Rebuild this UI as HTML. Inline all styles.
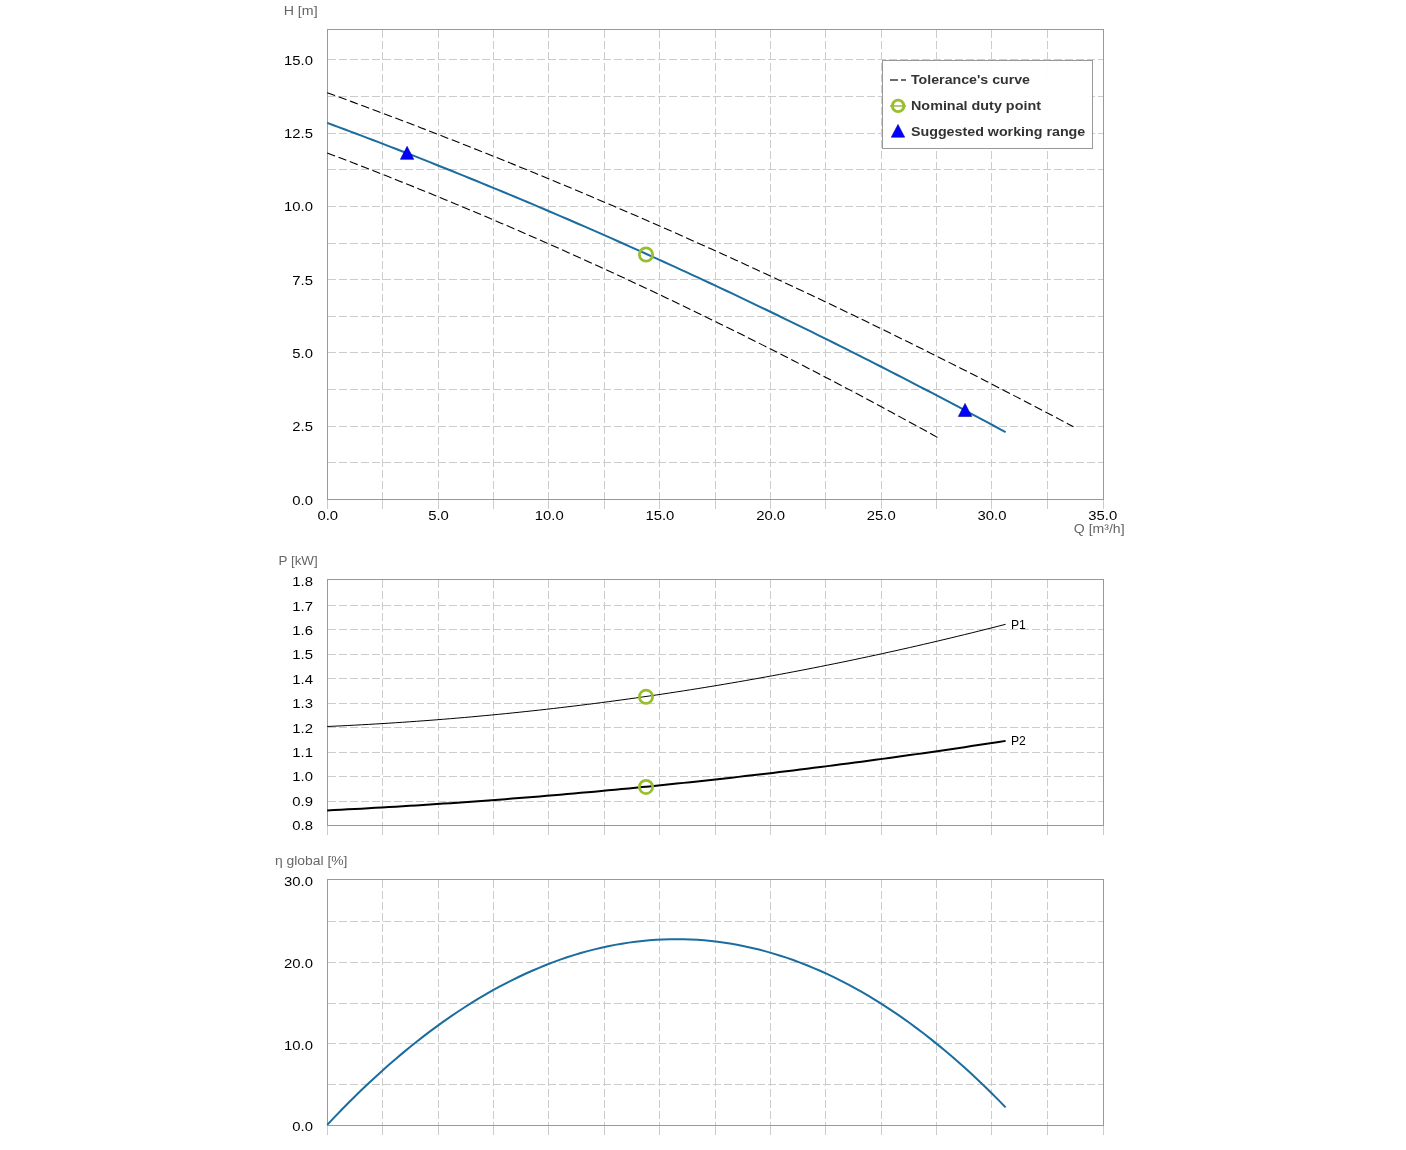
<!DOCTYPE html>
<html><head><meta charset="utf-8"><title>Pump curves</title>
<style>html,body{margin:0;padding:0;background:#fff;}body{width:1406px;height:1150px;overflow:hidden;}
text{font-family:"Liberation Sans", sans-serif;}</style></head>
<body>
<svg width="1406" height="1150" viewBox="0 0 1406 1150" style="display:block;will-change:transform">
<g font-family='"Liberation Sans", sans-serif'>
<line x1="328" y1="462.5" x2="1103" y2="462.5" stroke="#cccccc" stroke-dasharray="8,3"/>
<line x1="328" y1="426.5" x2="1103" y2="426.5" stroke="#cccccc" stroke-dasharray="8,3"/>
<line x1="328" y1="389.5" x2="1103" y2="389.5" stroke="#cccccc" stroke-dasharray="8,3"/>
<line x1="328" y1="352.5" x2="1103" y2="352.5" stroke="#cccccc" stroke-dasharray="8,3"/>
<line x1="328" y1="316.5" x2="1103" y2="316.5" stroke="#cccccc" stroke-dasharray="8,3"/>
<line x1="328" y1="279.5" x2="1103" y2="279.5" stroke="#cccccc" stroke-dasharray="8,3"/>
<line x1="328" y1="243.5" x2="1103" y2="243.5" stroke="#cccccc" stroke-dasharray="8,3"/>
<line x1="328" y1="206.5" x2="1103" y2="206.5" stroke="#cccccc" stroke-dasharray="8,3"/>
<line x1="328" y1="169.5" x2="1103" y2="169.5" stroke="#cccccc" stroke-dasharray="8,3"/>
<line x1="328" y1="133.5" x2="1103" y2="133.5" stroke="#cccccc" stroke-dasharray="8,3"/>
<line x1="328" y1="96.5" x2="1103" y2="96.5" stroke="#cccccc" stroke-dasharray="8,3"/>
<line x1="328" y1="59.5" x2="1103" y2="59.5" stroke="#cccccc" stroke-dasharray="8,3"/>
<line x1="327.5" y1="500" x2="327.5" y2="509" stroke="#cccccc"/>
<line x1="382.5" y1="30" x2="382.5" y2="499" stroke="#cccccc" stroke-dasharray="8,3"/>
<line x1="382.5" y1="500" x2="382.5" y2="509" stroke="#cccccc"/>
<line x1="438.5" y1="30" x2="438.5" y2="499" stroke="#cccccc" stroke-dasharray="8,3"/>
<line x1="438.5" y1="500" x2="438.5" y2="509" stroke="#cccccc"/>
<line x1="493.5" y1="30" x2="493.5" y2="499" stroke="#cccccc" stroke-dasharray="8,3"/>
<line x1="493.5" y1="500" x2="493.5" y2="509" stroke="#cccccc"/>
<line x1="548.5" y1="30" x2="548.5" y2="499" stroke="#cccccc" stroke-dasharray="8,3"/>
<line x1="548.5" y1="500" x2="548.5" y2="509" stroke="#cccccc"/>
<line x1="604.5" y1="30" x2="604.5" y2="499" stroke="#cccccc" stroke-dasharray="8,3"/>
<line x1="604.5" y1="500" x2="604.5" y2="509" stroke="#cccccc"/>
<line x1="659.5" y1="30" x2="659.5" y2="499" stroke="#cccccc" stroke-dasharray="8,3"/>
<line x1="659.5" y1="500" x2="659.5" y2="509" stroke="#cccccc"/>
<line x1="715.5" y1="30" x2="715.5" y2="499" stroke="#cccccc" stroke-dasharray="8,3"/>
<line x1="715.5" y1="500" x2="715.5" y2="509" stroke="#cccccc"/>
<line x1="770.5" y1="30" x2="770.5" y2="499" stroke="#cccccc" stroke-dasharray="8,3"/>
<line x1="770.5" y1="500" x2="770.5" y2="509" stroke="#cccccc"/>
<line x1="825.5" y1="30" x2="825.5" y2="499" stroke="#cccccc" stroke-dasharray="8,3"/>
<line x1="825.5" y1="500" x2="825.5" y2="509" stroke="#cccccc"/>
<line x1="881.5" y1="30" x2="881.5" y2="499" stroke="#cccccc" stroke-dasharray="8,3"/>
<line x1="881.5" y1="500" x2="881.5" y2="509" stroke="#cccccc"/>
<line x1="936.5" y1="30" x2="936.5" y2="499" stroke="#cccccc" stroke-dasharray="8,3"/>
<line x1="936.5" y1="500" x2="936.5" y2="509" stroke="#cccccc"/>
<line x1="991.5" y1="30" x2="991.5" y2="499" stroke="#cccccc" stroke-dasharray="8,3"/>
<line x1="991.5" y1="500" x2="991.5" y2="509" stroke="#cccccc"/>
<line x1="1047.5" y1="30" x2="1047.5" y2="499" stroke="#cccccc" stroke-dasharray="8,3"/>
<line x1="1047.5" y1="500" x2="1047.5" y2="509" stroke="#cccccc"/>
<line x1="1103.5" y1="500" x2="1103.5" y2="509" stroke="#cccccc"/>
<rect x="327.5" y="29.5" width="776" height="470" fill="none" stroke="#999999"/>
<path d="M327.20,92.69 L333.47,94.98 L339.74,97.27 L346.01,99.58 L352.28,101.89 L358.56,104.21 L364.83,106.54 L371.10,108.88 L377.37,111.23 L383.64,113.59 L389.91,115.96 L396.18,118.33 L402.45,120.72 L408.73,123.11 L415.00,125.51 L421.27,127.92 L427.54,130.34 L433.81,132.77 L440.08,135.20 L446.35,137.65 L452.62,140.10 L458.90,142.57 L465.17,145.04 L471.44,147.52 L477.71,150.01 L483.98,152.51 L490.25,155.01 L496.52,157.53 L502.79,160.06 L509.07,162.59 L515.34,165.13 L521.61,167.68 L527.88,170.24 L534.15,172.81 L540.42,175.39 L546.69,177.98 L552.96,180.57 L559.24,183.18 L565.51,185.79 L571.78,188.41 L578.05,191.04 L584.32,193.68 L590.59,196.33 L596.86,198.99 L603.13,201.66 L609.41,204.33 L615.68,207.01 L621.95,209.71 L628.22,212.41 L634.49,215.12 L640.76,217.84 L647.03,220.57 L653.30,223.30 L659.57,226.05 L665.85,228.80 L672.12,231.57 L678.39,234.34 L684.66,237.12 L690.93,239.91 L697.20,242.71 L703.47,245.51 L709.74,248.33 L716.02,251.16 L722.29,253.99 L728.56,256.83 L734.83,259.68 L741.10,262.54 L747.37,265.41 L753.64,268.29 L759.91,271.18 L766.19,274.07 L772.46,276.98 L778.73,279.89 L785.00,282.81 L791.27,285.74 L797.54,288.68 L803.81,291.63 L810.08,294.59 L816.36,297.56 L822.63,300.53 L828.90,303.52 L835.17,306.51 L841.44,309.51 L847.71,312.52 L853.98,315.54 L860.25,318.57 L866.53,321.60 L872.80,324.65 L879.07,327.70 L885.34,330.77 L891.61,333.84 L897.88,336.92 L904.15,340.01 L910.42,343.11 L916.70,346.22 L922.97,349.33 L929.24,352.46 L935.51,355.59 L941.78,358.73 L948.05,361.89 L954.32,365.05 L960.59,368.22 L966.87,371.39 L973.14,374.58 L979.41,377.78 L985.68,380.98 L991.95,384.19 L998.22,387.42 L1004.49,390.65 L1010.76,393.89 L1017.03,397.13 L1023.31,400.39 L1029.58,403.66 L1035.85,406.93 L1042.12,410.22 L1048.39,413.51 L1054.66,416.81 L1060.93,420.12 L1067.20,423.44 L1073.48,426.77" fill="none" stroke="#000" stroke-width="1.1" stroke-dasharray="8.4,3.7"/>
<path d="M327.20,152.96 L332.33,154.91 L337.46,156.86 L342.59,158.83 L347.72,160.80 L352.86,162.77 L357.99,164.76 L363.12,166.75 L368.25,168.75 L373.38,170.76 L378.51,172.78 L383.64,174.80 L388.77,176.83 L393.90,178.87 L399.03,180.92 L404.17,182.97 L409.30,185.03 L414.43,187.10 L419.56,189.17 L424.69,191.26 L429.82,193.35 L434.95,195.45 L440.08,197.55 L445.21,199.66 L450.34,201.79 L455.48,203.91 L460.61,206.05 L465.74,208.19 L470.87,210.34 L476.00,212.50 L481.13,214.67 L486.26,216.84 L491.39,219.02 L496.52,221.21 L501.65,223.41 L506.79,225.61 L511.92,227.82 L517.05,230.04 L522.18,232.27 L527.31,234.50 L532.44,236.74 L537.57,238.99 L542.70,241.25 L547.83,243.51 L552.96,245.78 L558.10,248.06 L563.23,250.35 L568.36,252.64 L573.49,254.94 L578.62,257.25 L583.75,259.57 L588.88,261.89 L594.01,264.22 L599.14,266.56 L604.27,268.91 L609.41,271.26 L614.54,273.62 L619.67,275.99 L624.80,278.37 L629.93,280.75 L635.06,283.14 L640.19,285.54 L645.32,287.95 L650.45,290.36 L655.58,292.78 L660.72,295.21 L665.85,297.65 L670.98,300.09 L676.11,302.54 L681.24,305.00 L686.37,307.47 L691.50,309.94 L696.63,312.43 L701.76,314.92 L706.89,317.41 L712.03,319.92 L717.16,322.43 L722.29,324.95 L727.42,327.47 L732.55,330.01 L737.68,332.55 L742.81,335.10 L747.94,337.66 L753.07,340.22 L758.20,342.79 L763.34,345.37 L768.47,347.96 L773.60,350.55 L778.73,353.16 L783.86,355.76 L788.99,358.38 L794.12,361.01 L799.25,363.64 L804.38,366.28 L809.51,368.92 L814.65,371.58 L819.78,374.24 L824.91,376.91 L830.04,379.59 L835.17,382.27 L840.30,384.97 L845.43,387.66 L850.56,390.37 L855.69,393.09 L860.82,395.81 L865.96,398.54 L871.09,401.28 L876.22,404.02 L881.35,406.77 L886.48,409.53 L891.61,412.30 L896.74,415.08 L901.87,417.86 L907.00,420.65 L912.13,423.44 L917.27,426.25 L922.40,429.06 L927.53,431.88 L932.66,434.71 L937.79,437.54" fill="none" stroke="#000" stroke-width="1.1" stroke-dasharray="8.4,3.7"/>
<path d="M327.20,122.83 L332.90,124.94 L338.60,127.07 L344.30,129.20 L350.00,131.34 L355.71,133.49 L361.41,135.65 L367.11,137.82 L372.81,139.99 L378.51,142.18 L384.21,144.37 L389.91,146.57 L395.61,148.77 L401.31,150.99 L407.02,153.21 L412.72,155.44 L418.42,157.68 L424.12,159.93 L429.82,162.19 L435.52,164.45 L441.22,166.73 L446.92,169.01 L452.62,171.29 L458.33,173.59 L464.03,175.90 L469.73,178.21 L475.43,180.53 L481.13,182.86 L486.83,185.20 L492.53,187.55 L498.23,189.90 L503.93,192.26 L509.64,194.63 L515.34,197.01 L521.04,199.40 L526.74,201.79 L532.44,204.20 L538.14,206.61 L543.84,209.03 L549.54,211.46 L555.24,213.89 L560.95,216.34 L566.65,218.79 L572.35,221.25 L578.05,223.72 L583.75,226.20 L589.45,228.68 L595.15,231.17 L600.85,233.67 L606.55,236.18 L612.26,238.70 L617.96,241.23 L623.66,243.76 L629.36,246.30 L635.06,248.85 L640.76,251.41 L646.46,253.98 L652.16,256.55 L657.86,259.14 L663.57,261.73 L669.27,264.33 L674.97,266.94 L680.67,269.55 L686.37,272.18 L692.07,274.81 L697.77,277.45 L703.47,280.10 L709.17,282.75 L714.88,285.42 L720.58,288.09 L726.28,290.77 L731.98,293.46 L737.68,296.16 L743.38,298.86 L749.08,301.58 L754.78,304.30 L760.48,307.03 L766.19,309.77 L771.89,312.52 L777.59,315.27 L783.29,318.03 L788.99,320.80 L794.69,323.58 L800.39,326.37 L806.09,329.17 L811.79,331.97 L817.50,334.78 L823.20,337.60 L828.90,340.43 L834.60,343.27 L840.30,346.11 L846.00,348.96 L851.70,351.82 L857.40,354.69 L863.10,357.57 L868.81,360.46 L874.51,363.35 L880.21,366.25 L885.91,369.16 L891.61,372.08 L897.31,375.01 L903.01,377.94 L908.71,380.88 L914.41,383.83 L920.12,386.79 L925.82,389.76 L931.52,392.73 L937.22,395.72 L942.92,398.71 L948.62,401.71 L954.32,404.72 L960.02,407.73 L965.72,410.76 L971.43,413.79 L977.13,416.83 L982.83,419.88 L988.53,422.94 L994.23,426.00 L999.93,429.08 L1005.63,432.16" fill="none" stroke="#1b6c9f" stroke-width="2" stroke-linejoin="round"/>
<path d="M407.10,146.35 L413.80,159.35 L400.40,159.35 Z" fill="#0000ff" stroke="#0000a0" stroke-width="0.6" stroke-linejoin="miter"/>
<path d="M965.05,403.45 L971.75,416.45 L958.35,416.45 Z" fill="#0000ff" stroke="#0000a0" stroke-width="0.6" stroke-linejoin="miter"/>
<circle cx="646.0" cy="254.5" r="6.65" fill="none" stroke="#97bf2b" stroke-width="2.75"/>
<text x="313.00" y="65.00" font-size="13" fill="#000" text-anchor="end" textLength="28.95" lengthAdjust="spacingAndGlyphs">15.0</text>
<text x="313.00" y="138.00" font-size="13" fill="#000" text-anchor="end" textLength="28.95" lengthAdjust="spacingAndGlyphs">12.5</text>
<text x="313.00" y="211.00" font-size="13" fill="#000" text-anchor="end" textLength="28.95" lengthAdjust="spacingAndGlyphs">10.0</text>
<text x="313.00" y="284.50" font-size="13" fill="#000" text-anchor="end" textLength="20.67" lengthAdjust="spacingAndGlyphs">7.5</text>
<text x="313.00" y="357.50" font-size="13" fill="#000" text-anchor="end" textLength="20.67" lengthAdjust="spacingAndGlyphs">5.0</text>
<text x="313.00" y="431.00" font-size="13" fill="#000" text-anchor="end" textLength="20.67" lengthAdjust="spacingAndGlyphs">2.5</text>
<text x="313.00" y="505.00" font-size="13" fill="#000" text-anchor="end" textLength="20.67" lengthAdjust="spacingAndGlyphs">0.0</text>
<text x="327.80" y="520.00" font-size="13" fill="#000" text-anchor="middle" textLength="20.67" lengthAdjust="spacingAndGlyphs">0.0</text>
<text x="438.50" y="520.00" font-size="13" fill="#000" text-anchor="middle" textLength="20.67" lengthAdjust="spacingAndGlyphs">5.0</text>
<text x="549.20" y="520.00" font-size="13" fill="#000" text-anchor="middle" textLength="28.95" lengthAdjust="spacingAndGlyphs">10.0</text>
<text x="659.90" y="520.00" font-size="13" fill="#000" text-anchor="middle" textLength="28.95" lengthAdjust="spacingAndGlyphs">15.0</text>
<text x="770.60" y="520.00" font-size="13" fill="#000" text-anchor="middle" textLength="28.95" lengthAdjust="spacingAndGlyphs">20.0</text>
<text x="881.30" y="520.00" font-size="13" fill="#000" text-anchor="middle" textLength="28.95" lengthAdjust="spacingAndGlyphs">25.0</text>
<text x="992.00" y="520.00" font-size="13" fill="#000" text-anchor="middle" textLength="28.95" lengthAdjust="spacingAndGlyphs">30.0</text>
<text x="1102.70" y="520.00" font-size="13" fill="#000" text-anchor="middle" textLength="28.95" lengthAdjust="spacingAndGlyphs">35.0</text>
<text x="283.70" y="14.80" font-size="12" fill="#666" text-anchor="start" textLength="33.89" lengthAdjust="spacingAndGlyphs">H [m]</text>
<text x="1073.80" y="533.00" font-size="12" fill="#666" text-anchor="start" textLength="50.77" lengthAdjust="spacingAndGlyphs">Q [m³/h]</text>
<rect x="882.5" y="60.5" width="210" height="88" fill="#fff" fill-opacity="0.95" stroke="#999999"/>
<line x1="890" y1="80" x2="906" y2="80" stroke="#6a6a6a" stroke-width="2" stroke-dasharray="8,3"/>
<line x1="890" y1="106" x2="906" y2="106" stroke="#9aab45" stroke-width="1.4"/>
<circle cx="898.1" cy="105.9" r="5.75" fill="none" stroke="#97bf2b" stroke-width="2.9"/>
<path d="M898,124.4 L904.7,137.2 L891.3,137.2 Z" fill="#0000ff" stroke="#0000a0" stroke-width="0.6"/>
<text x="911.00" y="84.00" font-size="12" font-weight="bold" fill="#333" text-anchor="start" textLength="119.02" lengthAdjust="spacingAndGlyphs">Tolerance's curve</text>
<text x="911.00" y="110.00" font-size="12" font-weight="bold" fill="#333" text-anchor="start" textLength="129.93" lengthAdjust="spacingAndGlyphs">Nominal duty point</text>
<text x="911.00" y="135.70" font-size="12" font-weight="bold" fill="#333" text-anchor="start" textLength="174.23" lengthAdjust="spacingAndGlyphs">Suggested working range</text>
<line x1="328" y1="801.5" x2="1103" y2="801.5" stroke="#cccccc" stroke-dasharray="8,3"/>
<line x1="328" y1="776.5" x2="1103" y2="776.5" stroke="#cccccc" stroke-dasharray="8,3"/>
<line x1="328" y1="752.5" x2="1103" y2="752.5" stroke="#cccccc" stroke-dasharray="8,3"/>
<line x1="328" y1="727.5" x2="1103" y2="727.5" stroke="#cccccc" stroke-dasharray="8,3"/>
<line x1="328" y1="703.5" x2="1103" y2="703.5" stroke="#cccccc" stroke-dasharray="8,3"/>
<line x1="328" y1="678.5" x2="1103" y2="678.5" stroke="#cccccc" stroke-dasharray="8,3"/>
<line x1="328" y1="654.5" x2="1103" y2="654.5" stroke="#cccccc" stroke-dasharray="8,3"/>
<line x1="328" y1="629.5" x2="1103" y2="629.5" stroke="#cccccc" stroke-dasharray="8,3"/>
<line x1="328" y1="605.5" x2="1103" y2="605.5" stroke="#cccccc" stroke-dasharray="8,3"/>
<line x1="327.5" y1="826" x2="327.5" y2="835" stroke="#cccccc"/>
<line x1="382.5" y1="580" x2="382.5" y2="825" stroke="#cccccc" stroke-dasharray="8,3"/>
<line x1="382.5" y1="826" x2="382.5" y2="835" stroke="#cccccc"/>
<line x1="438.5" y1="580" x2="438.5" y2="825" stroke="#cccccc" stroke-dasharray="8,3"/>
<line x1="438.5" y1="826" x2="438.5" y2="835" stroke="#cccccc"/>
<line x1="493.5" y1="580" x2="493.5" y2="825" stroke="#cccccc" stroke-dasharray="8,3"/>
<line x1="493.5" y1="826" x2="493.5" y2="835" stroke="#cccccc"/>
<line x1="548.5" y1="580" x2="548.5" y2="825" stroke="#cccccc" stroke-dasharray="8,3"/>
<line x1="548.5" y1="826" x2="548.5" y2="835" stroke="#cccccc"/>
<line x1="604.5" y1="580" x2="604.5" y2="825" stroke="#cccccc" stroke-dasharray="8,3"/>
<line x1="604.5" y1="826" x2="604.5" y2="835" stroke="#cccccc"/>
<line x1="659.5" y1="580" x2="659.5" y2="825" stroke="#cccccc" stroke-dasharray="8,3"/>
<line x1="659.5" y1="826" x2="659.5" y2="835" stroke="#cccccc"/>
<line x1="715.5" y1="580" x2="715.5" y2="825" stroke="#cccccc" stroke-dasharray="8,3"/>
<line x1="715.5" y1="826" x2="715.5" y2="835" stroke="#cccccc"/>
<line x1="770.5" y1="580" x2="770.5" y2="825" stroke="#cccccc" stroke-dasharray="8,3"/>
<line x1="770.5" y1="826" x2="770.5" y2="835" stroke="#cccccc"/>
<line x1="825.5" y1="580" x2="825.5" y2="825" stroke="#cccccc" stroke-dasharray="8,3"/>
<line x1="825.5" y1="826" x2="825.5" y2="835" stroke="#cccccc"/>
<line x1="881.5" y1="580" x2="881.5" y2="825" stroke="#cccccc" stroke-dasharray="8,3"/>
<line x1="881.5" y1="826" x2="881.5" y2="835" stroke="#cccccc"/>
<line x1="936.5" y1="580" x2="936.5" y2="825" stroke="#cccccc" stroke-dasharray="8,3"/>
<line x1="936.5" y1="826" x2="936.5" y2="835" stroke="#cccccc"/>
<line x1="991.5" y1="580" x2="991.5" y2="825" stroke="#cccccc" stroke-dasharray="8,3"/>
<line x1="991.5" y1="826" x2="991.5" y2="835" stroke="#cccccc"/>
<line x1="1047.5" y1="580" x2="1047.5" y2="825" stroke="#cccccc" stroke-dasharray="8,3"/>
<line x1="1047.5" y1="826" x2="1047.5" y2="835" stroke="#cccccc"/>
<line x1="1103.5" y1="826" x2="1103.5" y2="835" stroke="#cccccc"/>
<rect x="327.5" y="579.5" width="776" height="246" fill="none" stroke="#999999"/>
<path d="M327.20,726.49 L334.05,726.18 L340.91,725.86 L347.76,725.52 L354.61,725.16 L361.46,724.79 L368.32,724.41 L375.17,724.01 L382.02,723.60 L388.88,723.17 L395.73,722.73 L402.58,722.28 L409.43,721.80 L416.29,721.32 L423.14,720.82 L429.99,720.30 L436.85,719.77 L443.70,719.22 L450.55,718.66 L457.40,718.09 L464.26,717.50 L471.11,716.90 L477.96,716.28 L484.82,715.64 L491.67,714.99 L498.52,714.33 L505.37,713.65 L512.23,712.96 L519.08,712.25 L525.93,711.53 L532.79,710.79 L539.64,710.04 L546.49,709.28 L553.34,708.49 L560.20,707.70 L567.05,706.89 L573.90,706.06 L580.76,705.22 L587.61,704.37 L594.46,703.50 L601.31,702.61 L608.17,701.71 L615.02,700.80 L621.87,699.87 L628.73,698.93 L635.58,697.97 L642.43,696.99 L649.28,696.01 L656.14,695.00 L662.99,693.99 L669.84,692.95 L676.70,691.91 L683.55,690.85 L690.40,689.77 L697.25,688.68 L704.11,687.57 L710.96,686.45 L717.81,685.32 L724.67,684.17 L731.52,683.00 L738.37,681.82 L745.22,680.63 L752.08,679.42 L758.93,678.19 L765.78,676.96 L772.64,675.70 L779.49,674.43 L786.34,673.15 L793.19,671.85 L800.05,670.54 L806.90,669.21 L813.75,667.87 L820.61,666.51 L827.46,665.14 L834.31,663.76 L841.16,662.36 L848.02,660.94 L854.87,659.51 L861.72,658.06 L868.58,656.60 L875.43,655.13 L882.28,653.64 L889.13,652.14 L895.99,650.62 L902.84,649.08 L909.69,647.54 L916.55,645.97 L923.40,644.39 L930.25,642.80 L937.10,641.19 L943.96,639.57 L950.81,637.93 L957.66,636.28 L964.52,634.62 L971.37,632.94 L978.22,631.24 L985.07,629.53 L991.93,627.80 L998.78,626.06 L1005.63,624.31" fill="none" stroke="#000" stroke-width="1"/>
<path d="M327.20,810.41 L334.05,810.07 L340.91,809.72 L347.76,809.36 L354.61,809.00 L361.46,808.63 L368.32,808.25 L375.17,807.86 L382.02,807.47 L388.88,807.07 L395.73,806.66 L402.58,806.25 L409.43,805.82 L416.29,805.39 L423.14,804.96 L429.99,804.51 L436.85,804.06 L443.70,803.60 L450.55,803.13 L457.40,802.66 L464.26,802.18 L471.11,801.69 L477.96,801.19 L484.82,800.69 L491.67,800.18 L498.52,799.66 L505.37,799.13 L512.23,798.60 L519.08,798.06 L525.93,797.51 L532.79,796.96 L539.64,796.39 L546.49,795.82 L553.34,795.25 L560.20,794.66 L567.05,794.07 L573.90,793.47 L580.76,792.86 L587.61,792.25 L594.46,791.63 L601.31,791.00 L608.17,790.36 L615.02,789.72 L621.87,789.07 L628.73,788.41 L635.58,787.74 L642.43,787.07 L649.28,786.39 L656.14,785.70 L662.99,785.01 L669.84,784.31 L676.70,783.60 L683.55,782.88 L690.40,782.15 L697.25,781.42 L704.11,780.68 L710.96,779.94 L717.81,779.18 L724.67,778.42 L731.52,777.65 L738.37,776.88 L745.22,776.09 L752.08,775.30 L758.93,774.50 L765.78,773.70 L772.64,772.89 L779.49,772.07 L786.34,771.24 L793.19,770.40 L800.05,769.56 L806.90,768.71 L813.75,767.85 L820.61,766.99 L827.46,766.12 L834.31,765.24 L841.16,764.35 L848.02,763.46 L854.87,762.56 L861.72,761.65 L868.58,760.73 L875.43,759.81 L882.28,758.88 L889.13,757.94 L895.99,757.00 L902.84,756.04 L909.69,755.08 L916.55,754.12 L923.40,753.14 L930.25,752.16 L937.10,751.17 L943.96,750.17 L950.81,749.17 L957.66,748.16 L964.52,747.14 L971.37,746.11 L978.22,745.08 L985.07,744.04 L991.93,742.99 L998.78,741.93 L1005.63,740.87" fill="none" stroke="#000" stroke-width="2"/>
<circle cx="646.0" cy="696.85" r="6.65" fill="none" stroke="#97bf2b" stroke-width="2.75"/>
<circle cx="646.0" cy="786.9" r="6.65" fill="none" stroke="#97bf2b" stroke-width="2.75"/>
<text x="313.00" y="830.30" font-size="13" fill="#000" text-anchor="end" textLength="20.67" lengthAdjust="spacingAndGlyphs">0.8</text>
<text x="313.00" y="805.89" font-size="13" fill="#000" text-anchor="end" textLength="20.67" lengthAdjust="spacingAndGlyphs">0.9</text>
<text x="313.00" y="781.48" font-size="13" fill="#000" text-anchor="end" textLength="20.67" lengthAdjust="spacingAndGlyphs">1.0</text>
<text x="313.00" y="757.07" font-size="13" fill="#000" text-anchor="end" textLength="20.67" lengthAdjust="spacingAndGlyphs">1.1</text>
<text x="313.00" y="732.66" font-size="13" fill="#000" text-anchor="end" textLength="20.67" lengthAdjust="spacingAndGlyphs">1.2</text>
<text x="313.00" y="708.25" font-size="13" fill="#000" text-anchor="end" textLength="20.67" lengthAdjust="spacingAndGlyphs">1.3</text>
<text x="313.00" y="683.84" font-size="13" fill="#000" text-anchor="end" textLength="20.67" lengthAdjust="spacingAndGlyphs">1.4</text>
<text x="313.00" y="659.43" font-size="13" fill="#000" text-anchor="end" textLength="20.67" lengthAdjust="spacingAndGlyphs">1.5</text>
<text x="313.00" y="635.02" font-size="13" fill="#000" text-anchor="end" textLength="20.67" lengthAdjust="spacingAndGlyphs">1.6</text>
<text x="313.00" y="610.61" font-size="13" fill="#000" text-anchor="end" textLength="20.67" lengthAdjust="spacingAndGlyphs">1.7</text>
<text x="313.00" y="586.20" font-size="13" fill="#000" text-anchor="end" textLength="20.67" lengthAdjust="spacingAndGlyphs">1.8</text>
<text x="278.50" y="565.00" font-size="12" fill="#666" text-anchor="start" textLength="39.23" lengthAdjust="spacingAndGlyphs">P [kW]</text>
<text x="1010.90" y="628.80" font-size="12" fill="#000" text-anchor="start" textLength="14.87" lengthAdjust="spacingAndGlyphs">P1</text>
<text x="1010.90" y="745.30" font-size="12" fill="#000" text-anchor="start" textLength="14.87" lengthAdjust="spacingAndGlyphs">P2</text>
<line x1="328" y1="1084.5" x2="1103" y2="1084.5" stroke="#cccccc" stroke-dasharray="8,3"/>
<line x1="328" y1="1043.5" x2="1103" y2="1043.5" stroke="#cccccc" stroke-dasharray="8,3"/>
<line x1="328" y1="1003.5" x2="1103" y2="1003.5" stroke="#cccccc" stroke-dasharray="8,3"/>
<line x1="328" y1="962.5" x2="1103" y2="962.5" stroke="#cccccc" stroke-dasharray="8,3"/>
<line x1="328" y1="921.5" x2="1103" y2="921.5" stroke="#cccccc" stroke-dasharray="8,3"/>
<line x1="327.5" y1="1126" x2="327.5" y2="1135" stroke="#cccccc"/>
<line x1="382.5" y1="880" x2="382.5" y2="1125" stroke="#cccccc" stroke-dasharray="8,3"/>
<line x1="382.5" y1="1126" x2="382.5" y2="1135" stroke="#cccccc"/>
<line x1="438.5" y1="880" x2="438.5" y2="1125" stroke="#cccccc" stroke-dasharray="8,3"/>
<line x1="438.5" y1="1126" x2="438.5" y2="1135" stroke="#cccccc"/>
<line x1="493.5" y1="880" x2="493.5" y2="1125" stroke="#cccccc" stroke-dasharray="8,3"/>
<line x1="493.5" y1="1126" x2="493.5" y2="1135" stroke="#cccccc"/>
<line x1="548.5" y1="880" x2="548.5" y2="1125" stroke="#cccccc" stroke-dasharray="8,3"/>
<line x1="548.5" y1="1126" x2="548.5" y2="1135" stroke="#cccccc"/>
<line x1="604.5" y1="880" x2="604.5" y2="1125" stroke="#cccccc" stroke-dasharray="8,3"/>
<line x1="604.5" y1="1126" x2="604.5" y2="1135" stroke="#cccccc"/>
<line x1="659.5" y1="880" x2="659.5" y2="1125" stroke="#cccccc" stroke-dasharray="8,3"/>
<line x1="659.5" y1="1126" x2="659.5" y2="1135" stroke="#cccccc"/>
<line x1="715.5" y1="880" x2="715.5" y2="1125" stroke="#cccccc" stroke-dasharray="8,3"/>
<line x1="715.5" y1="1126" x2="715.5" y2="1135" stroke="#cccccc"/>
<line x1="770.5" y1="880" x2="770.5" y2="1125" stroke="#cccccc" stroke-dasharray="8,3"/>
<line x1="770.5" y1="1126" x2="770.5" y2="1135" stroke="#cccccc"/>
<line x1="825.5" y1="880" x2="825.5" y2="1125" stroke="#cccccc" stroke-dasharray="8,3"/>
<line x1="825.5" y1="1126" x2="825.5" y2="1135" stroke="#cccccc"/>
<line x1="881.5" y1="880" x2="881.5" y2="1125" stroke="#cccccc" stroke-dasharray="8,3"/>
<line x1="881.5" y1="1126" x2="881.5" y2="1135" stroke="#cccccc"/>
<line x1="936.5" y1="880" x2="936.5" y2="1125" stroke="#cccccc" stroke-dasharray="8,3"/>
<line x1="936.5" y1="1126" x2="936.5" y2="1135" stroke="#cccccc"/>
<line x1="991.5" y1="880" x2="991.5" y2="1125" stroke="#cccccc" stroke-dasharray="8,3"/>
<line x1="991.5" y1="1126" x2="991.5" y2="1135" stroke="#cccccc"/>
<line x1="1047.5" y1="880" x2="1047.5" y2="1125" stroke="#cccccc" stroke-dasharray="8,3"/>
<line x1="1047.5" y1="1126" x2="1047.5" y2="1135" stroke="#cccccc"/>
<line x1="1103.5" y1="1126" x2="1103.5" y2="1135" stroke="#cccccc"/>
<rect x="327.5" y="879.5" width="776" height="246" fill="none" stroke="#999999"/>
<path d="M327.20,1124.89 L334.05,1117.64 L340.91,1110.52 L347.76,1103.56 L354.61,1096.74 L361.46,1090.07 L368.32,1083.55 L375.17,1077.18 L382.02,1070.95 L388.88,1064.86 L395.73,1058.92 L402.58,1053.13 L409.43,1047.48 L416.29,1041.98 L423.14,1036.62 L429.99,1031.41 L436.85,1026.34 L443.70,1021.41 L450.55,1016.63 L457.40,1012.00 L464.26,1007.50 L471.11,1003.16 L477.96,998.95 L484.82,994.89 L491.67,990.97 L498.52,987.20 L505.37,983.57 L512.23,980.08 L519.08,976.73 L525.93,973.53 L532.79,970.47 L539.64,967.56 L546.49,964.78 L553.34,962.15 L560.20,959.66 L567.05,957.32 L573.90,955.11 L580.76,953.05 L587.61,951.13 L594.46,949.36 L601.31,947.72 L608.17,946.23 L615.02,944.88 L621.87,943.68 L628.73,942.62 L635.58,941.69 L642.43,940.92 L649.28,940.28 L656.14,939.79 L662.99,939.44 L669.84,939.23 L676.70,939.17 L683.55,939.25 L690.40,939.47 L697.25,939.83 L704.11,940.34 L710.96,940.99 L717.81,941.79 L724.67,942.73 L731.52,943.81 L738.37,945.04 L745.22,946.41 L752.08,947.92 L758.93,949.58 L765.78,951.39 L772.64,953.34 L779.49,955.43 L786.34,957.67 L793.19,960.05 L800.05,962.58 L806.90,965.26 L813.75,968.08 L820.61,971.04 L827.46,974.16 L834.31,977.42 L841.16,980.83 L848.02,984.38 L854.87,988.08 L861.72,991.93 L868.58,995.93 L875.43,1000.07 L882.28,1004.37 L889.13,1008.81 L895.99,1013.40 L902.84,1018.14 L909.69,1023.03 L916.55,1028.07 L923.40,1033.26 L930.25,1038.61 L937.10,1044.10 L943.96,1049.74 L950.81,1055.54 L957.66,1061.49 L964.52,1067.59 L971.37,1073.84 L978.22,1080.25 L985.07,1086.81 L991.93,1093.52 L998.78,1100.39 L1005.63,1107.42" fill="none" stroke="#1b6c9f" stroke-width="2" stroke-linejoin="round"/>
<text x="313.00" y="1131.30" font-size="13" fill="#000" text-anchor="end" textLength="20.67" lengthAdjust="spacingAndGlyphs">0.0</text>
<text x="313.00" y="1049.50" font-size="13" fill="#000" text-anchor="end" textLength="28.95" lengthAdjust="spacingAndGlyphs">10.0</text>
<text x="313.00" y="967.70" font-size="13" fill="#000" text-anchor="end" textLength="28.95" lengthAdjust="spacingAndGlyphs">20.0</text>
<text x="313.00" y="885.90" font-size="13" fill="#000" text-anchor="end" textLength="28.95" lengthAdjust="spacingAndGlyphs">30.0</text>
<text x="274.90" y="865.00" font-size="12" fill="#666" text-anchor="start" textLength="72.60" lengthAdjust="spacingAndGlyphs">η global [%]</text>
</g></svg>
</body></html>
